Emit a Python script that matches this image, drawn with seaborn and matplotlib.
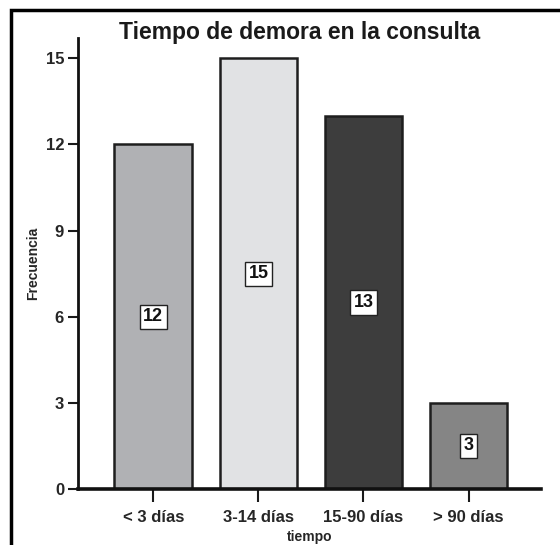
import matplotlib
matplotlib.use("Agg")
import matplotlib.pyplot as plt
import seaborn as sns
from matplotlib.patches import Rectangle

categories = ["< 3 días", "3-14 días", "15-90 días", "> 90 días"]
values = [12, 15, 13, 3]
colors = ["#b0b1b4", "#e1e2e4", "#3d3d3d", "#858585"]
yticks = [0, 3, 6, 9, 12, 15]
title = "Tiempo de demora en la consulta"
xlabel = "tiempo"
ylabel = "Frecuencia"

sns.set_style("white")
plt.rcParams['font.family'] = ['Liberation Sans', 'DejaVu Sans']
plt.rcParams['font.weight'] = 'bold'

fig = plt.figure(figsize=(5.6, 5.45), dpi=100)
ax = fig.add_axes([78/560, 1 - 489/545, (541 - 78)/560, (489 - 37.7)/545])

sns.barplot(x=categories, y=values, hue=categories, palette=colors, legend=False,
            width=0.74, edgecolor="#1e1e1e", linewidth=1.8, saturation=1, ax=ax)

ax.set_xlim(-0.717, 3.69)
ax.set_ylim(0, 15.72)
ax.set_yticks(yticks)
ax.set_yticklabels([str(t) for t in yticks], fontsize=12, fontweight='bold')
ax.set_xticks(range(len(categories)))
ax.set_xticklabels(categories, fontsize=12, fontweight='bold')
ax.tick_params(axis='y', direction='out', length=7, width=1.5, pad=3, left=True, color='#1a1a1a')
ax.tick_params(axis='x', direction='out', length=9, width=1.5, pad=6, bottom=True, color='#1a1a1a')
for s in ['top', 'right']:
    ax.spines[s].set_visible(False)
ax.spines['left'].set_linewidth(2)
ax.spines['bottom'].set_linewidth(2.6)
ax.spines['left'].set_color('#111111')
ax.spines['bottom'].set_color('#111111')

ax.set_xlabel(xlabel, fontsize=10, fontweight='bold')
ax.set_ylabel(ylabel, fontsize=10, fontweight='bold')
ax.xaxis.set_label_coords(0.5, -(530 - 489) / 451.3)
ax.yaxis.set_label_coords((40 - 78) / 463, 0.5)

for i, v in enumerate(values):
    ax.text(i, v / 2, str(v), ha='center', va='center', fontsize=13, fontweight='bold',
            color='#111111',
            bbox=dict(boxstyle='square,pad=0.2', facecolor='white', edgecolor='#222222', linewidth=1))

fig.text(300/560, 1 - 33/545, title, ha='center', va='center', fontsize=16.5, fontweight='bold', color='#1a1a1a')

fig.patches.append(Rectangle((11/560, -0.2), 1.5, 1 - 10/545 + 0.2, transform=fig.transFigure,
                             fill=False, edgecolor='black', linewidth=2.5, clip_on=False))

fig.savefig("out.png", dpi=100)
